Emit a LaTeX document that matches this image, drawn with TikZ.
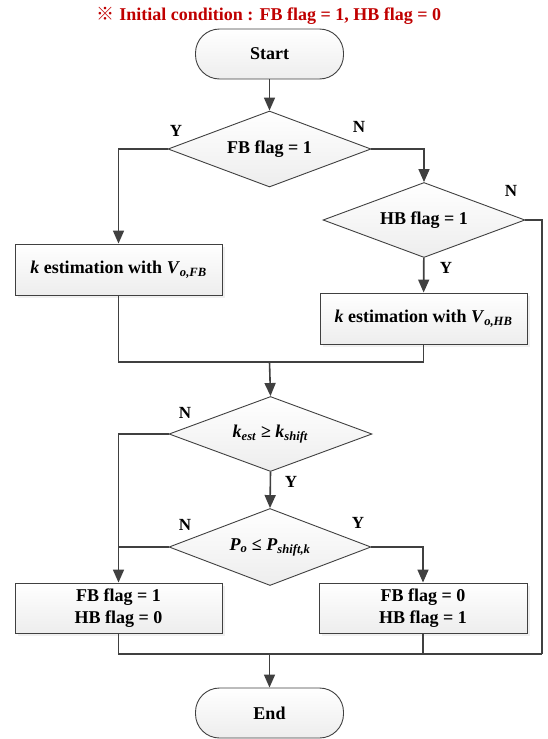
\documentclass[tikz,border=0pt]{standalone}
\usepackage{fontspec}
\setmainfont{Liberation Serif}
\newfontfamily\cjk{Noto Sans CJK SC Bold}
\usetikzlibrary{arrows.meta,shapes.geometric,shadows}
\definecolor{ln}{HTML}{404040}
\definecolor{ttl}{HTML}{C00000}
\tikzset{
  base/.style={draw=ln, line width=0.9pt, font=\fontsize{18}{22}\selectfont\bfseries, align=center,
    top color=white, bottom color=gray!14, inner sep=0pt},
  term/.style={base, rectangle, rounded corners=24pt, minimum width=148pt, minimum height=50pt},
  dec/.style={base, diamond, aspect=2.67, minimum width=203pt, minimum height=76pt},
  proc/.style={base, rectangle, minimum width=207pt, minimum height=51pt,
    drop shadow={opacity=0.12, shadow xshift=2.5pt, shadow yshift=-2.5pt}},
  lab/.style={font=\fontsize{17}{20}\selectfont\bfseries},
  wire/.style={draw=ln, line width=1.6pt},
  arr/.style={wire, -{Triangle[length=13pt,width=11pt]}}
}
\newcommand{\bi}[1]{\textit{#1}}
\begin{document}
\begin{tikzpicture}[x=1pt,y=-1pt]
\useasboundingbox (0,0) rectangle (547,739);
\node[font=\fontsize{18}{21}\selectfont\bfseries, text=ttl] (title) at (269,16) {{\cjk ※} Initial condition : FB flag = 1, HB flag = 0};
\node[term] (start) at (269.5,54) {Start};
\node[dec] (d1) at (269.5,149) {FB flag = 1};
\node[dec, minimum width=202pt, minimum height=75pt] (d2) at (424,220) {HB flag = 1};
\node[proc] (pFB) at (118.5,269.5) {\bi{k} estimation with \bi{V}\textsubscript{\bi{o,FB}}};
\node[proc] (pHB) at (423.5,318.5) {\bi{k} estimation with \bi{V}\textsubscript{\bi{o,HB}}};
\node[dec, minimum height=75pt] (d3) at (270.5,434) {\bi{k}\textsubscript{\bi{est}} ≥ \bi{k}\textsubscript{\bi{shift}}};
\node[dec, minimum width=202pt, minimum height=77pt] (d4) at (270,547) {\bi{P}\textsubscript{\bi{o}} ≤ \bi{P}\textsubscript{\bi{shift,k}}};
\node[proc, minimum height=50pt] (bL) at (118.5,608) {FB flag = 1\\HB flag = 0};
\node[proc, minimum height=50pt, minimum width=208pt] (bR) at (423,608) {FB flag = 0\\HB flag = 1};
\node[term] (end) at (269.5,713) {End};

\coordinate (m1) at (269.5,362);
\coordinate (m2) at (269.5,654);
\coordinate (rt) at (542,220);
\coordinate (rb) at (542,654);

\draw[arr] (start) -- (d1);
\draw[arr] (d1.west) -| (pFB.north);
\draw[arr] (d1.east) -| (d2.north);
\draw[arr] (d2) -- (pHB);
\draw[wire] (d2.east) -- (rt) -- (rb);
\draw[wire] (pFB.south) |- (m1) -| (pHB.south);
\draw[arr] (m1) -- (d3.north);
\draw[arr] (d3.west) -| (bL.north);
\draw[wire] (d4.west) -- (d4.west -| bL.north);
\draw[arr] (d3.south) -- (d4.north);
\draw[arr] (d4.east) -| (bR.north);
\draw[wire] (bL.south) |- (rb);
\draw[wire] (bR.south) -- (bR.south |- rb);
\draw[arr] (m2) -- (end.north);

\node[lab] (y1) at (176,131) {Y};
\node[lab] (n1) at (359,127) {N};
\node[lab] (n2) at (511,191) {N};
\node[lab] (y2) at (446,268) {Y};
\node[lab] (n3) at (185,413) {N};
\node[lab] (y3) at (291,482) {Y};
\node[lab] (n4) at (185,525) {N};
\node[lab] (y4) at (358,523) {Y};
\end{tikzpicture}
\end{document}
